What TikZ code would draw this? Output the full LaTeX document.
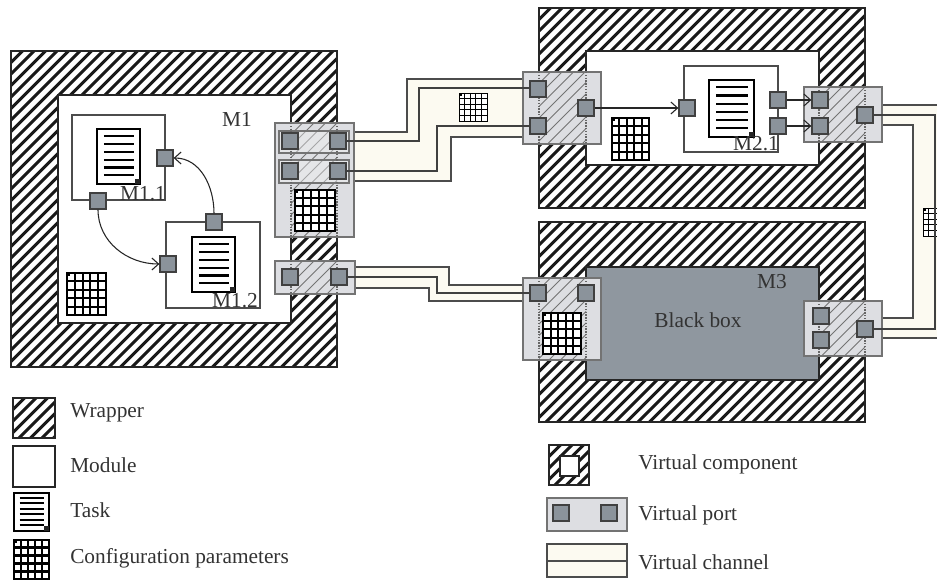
\documentclass[tikz,border=0pt]{standalone}
\usepackage{fontspec}
\setmainfont{Liberation Serif}
\usetikzlibrary{arrows.meta}
\definecolor{portgray}{HTML}{8B939B}
\definecolor{boxgray}{HTML}{8F979F}
\definecolor{portbg}{HTML}{DDDEE2}
\definecolor{chancream}{HTML}{FCFAF1}
\definecolor{inkgray}{HTML}{333333}
\tikzset{
    wrapper/.style={draw=black!85,line width=2.2pt},
    wrapline/.style={black!90,line width=2.2pt},
    module/.style={draw=black!85,line width=2pt,fill=white},
    taskbox/.style={draw=black!70,line width=1.1pt},
    port/.style={draw=black!75,fill=portgray,line width=1pt,minimum size=12pt,inner sep=0pt},
    vport/.style={draw=black!55,line width=1pt,fill=portbg},
    vline/.style={black!55,line width=0.7pt},
    zone/.style={draw=black!60,line width=1.1pt,densely dotted},
    channel/.style={draw=black!70,line width=1.1pt,fill=chancream},
    wire/.style={draw=black!75,line width=1.1pt},
    flow/.style={draw=black!85,line width=0.8pt,-{Straight Barb[length=5pt,width=9pt]}},
    lbl/.style={text=inkgray,font=\fontsize{16}{19}\selectfont,inner sep=0pt},
}
\newcommand{\hatchrect}[5]{
    \pgfmathsetmacro{\hh}{#5-#3}
    \pgfmathsetmacro{\nn}{#4-#2+#5-#3}
    \begin{scope}
        \clip (#2,#3) rectangle (#4,#5);
        \foreach \d in {0,11.5,...,\nn}
            \draw[#1] ({#2+\d-\hh},#5) -- ({#2+\d},#3);
    \end{scope}
}
\newcommand{\taskdoc}[4]{
    \draw[line width=2pt,fill=white] (#1,#2) rectangle (#3,#4);
    \fill[black!85] (#3,#4) ++(-5,0) rectangle ++(5,-5);
    \foreach \k in {1,...,6}
        \draw[line width=1.6pt] ({#1+0.16*(#3-#1)},{#2+(#4-#2)*(\k-0.1)/7}) -- ({#3-0.13*(#3-#1)},{#2+(#4-#2)*(\k-0.1)/7});
}
\newcommand{\cfggrid}[5]{
    \draw[line width=#5,fill=white] (#1,#2) rectangle (#3,#4);
    \foreach \k in {1,...,4} {
        \draw[line width=#5] ({#1+(#3-#1)*\k/5},#2) -- ({#1+(#3-#1)*\k/5},#4);
        \draw[line width=#5] (#1,{#2+(#4-#2)*\k/5}) -- (#3,{#2+(#4-#2)*\k/5});
    }
    \fill (#1,#2) rectangle ++(3,3);
}
\begin{document}
\begin{tikzpicture}[x=0.75pt,y=-0.75pt]
    \clip (0,0) rectangle (937,580);

    \hatchrect{wrapline}{11}{51}{337}{367}
    \draw[wrapper] (11,51) rectangle (337,367);
    \draw[module] (58,95) rectangle (291,323);
    \draw[taskbox] (72,115) rectangle (165,200);
    \draw[taskbox] (166,222) rectangle (260,308);
    \taskdoc{97}{129}{140}{184}
    \taskdoc{192}{237}{235}{292}
    \cfggrid{67}{273}{106}{315}{1.5pt}
    \node[lbl] (m1) at (237,119) {M1};
    \node[lbl] (m11) at (143,194) {M1.1};
    \node[lbl] (m12) at (235,301) {M1.2};

    \hatchrect{wrapline}{539}{8}{865}{208}
    \draw[wrapper] (539,8) rectangle (865,208);
    \draw[module] (586,51) rectangle (819,165);
    \draw[taskbox] (684,66) rectangle (778,152);
    \taskdoc{709}{80}{754}{137}
    \cfggrid{612}{118}{649}{160}{1.5pt}
    \node[lbl] (m21) at (756,144) {M2.1};

    \hatchrect{wrapline}{539}{222}{865}{422}
    \draw[wrapper] (539,222) rectangle (865,422);
    \draw[module,fill=boxgray] (586,267) rectangle (819,380);
    \node[lbl] (m3) at (772,282) {M3};
    \node[lbl] (blackbox) at (698,320) {Black box};

    \draw[channel] (350,132) -- (407,132) -- (407,79) -- (530,79) -- (530,137) -- (451,137) -- (451,181) -- (350,181) -- cycle;
    \draw[channel] (350,267) -- (449,267) -- (449,285) -- (530,285) -- (530,301) -- (429,301) -- (429,288) -- (350,288) -- cycle;
    \draw[channel] (875,105) -- (950,105) -- (950,338) -- (875,338) -- (875,318) -- (913,318) -- (913,125) -- (875,125) -- cycle;
    \cfggrid{459}{93}{487}{121}{0.7pt}
    \cfggrid{923}{208}{951}{236}{0.7pt}

    \draw[vport] (275,123) rectangle (354,237);
    \hatchrect{vline}{291}{123}{337}{237}
    \draw[vport,fill=portbg!40,fill opacity=0.4] (279,131) rectangle (349,153);
    \draw[vport,fill=portbg!40,fill opacity=0.4] (279,160) rectangle (349,183);
    \cfggrid{295}{190}{335}{231}{1.5pt}
    \draw[zone] (291,123) -- (291,237);
    \draw[zone] (337,123) -- (337,237);

    \draw[vport] (275,261) rectangle (355,294);
    \hatchrect{vline}{291}{261}{337}{294}
    \draw[zone] (291,261) -- (291,294);
    \draw[zone] (337,261) -- (337,294);

    \draw[vport] (523,72) rectangle (601,144);
    \hatchrect{vline}{539}{72}{586}{144}
    \draw[zone] (539,72) -- (539,144);
    \draw[zone] (586,72) -- (586,144);

    \draw[vport] (804,87) rectangle (882,142);
    \hatchrect{vline}{819}{87}{865}{142}
    \draw[zone] (819,87) -- (819,142);
    \draw[zone] (865,87) -- (865,142);

    \draw[vport] (523,278) rectangle (601,360);
    \hatchrect{vline}{539}{278}{586}{360}
    \cfggrid{543}{313}{581}{354}{1.5pt}
    \draw[zone] (539,278) -- (539,360);
    \draw[zone] (586,278) -- (586,360);

    \draw[vport] (804,301) rectangle (882,356);
    \hatchrect{vline}{819}{301}{865}{356}
    \draw[zone] (819,301) -- (819,356);
    \draw[zone] (865,301) -- (865,356);

    \node[port] (p1a) at (165,158) {};
    \node[port] (p1b) at (98,201) {};
    \node[port] (p1c) at (214,222) {};
    \node[port] (p1d) at (168,264) {};
    \node[port] (w1a) at (290,141) {};
    \node[port] (w1b) at (338,141) {};
    \node[port] (w1c) at (290,171) {};
    \node[port] (w1d) at (338,171) {};
    \node[port] (w1e) at (290,277) {};
    \node[port] (w1f) at (339,277) {};

    \node[port] (w2a) at (538,89) {};
    \node[port] (w2b) at (538,126) {};
    \node[port] (w2c) at (586,108) {};
    \node[port] (p2a) at (687,108) {};
    \node[port] (p2b) at (778,100) {};
    \node[port] (p2c) at (778,126) {};
    \node[port] (w2d) at (820,100) {};
    \node[port] (w2e) at (820,126) {};
    \node[port] (w2f) at (865,115) {};

    \node[port] (w3a) at (538,293) {};
    \node[port] (w3b) at (586,293) {};
    \node[port] (w3c) at (821,316) {};
    \node[port] (w3d) at (821,340) {};
    \node[port] (w3e) at (865,329) {};

    \draw[flow] (p1b) to[out=-90,in=180] (p1d);
    \draw[flow] (p1c) to[out=90,in=0] (p1a);
    \draw[flow] (w2c) -- (p2a);
    \draw[flow] (p2b) -- (w2d);
    \draw[flow] (p2c) -- (w2e);

    \draw[wire] (w1b) -- (419,141) -- (419,88) -- (w2a.west |- 0,88);
    \draw[wire] (w1d) -- (437,171) -- (437,126) -- (w2b);
    \draw[wire] (w1f) -- (437,277) -- (437,293) -- (w3a);
    \draw[wire] (w2f) -- (935,115) -- (935,329) -- (w3e);

    \hatchrect{wrapline}{13}{398}{55}{438}
    \draw[wrapper] (13,398) rectangle (55,438);
    \draw[module] (13,446) rectangle (55,487);
    \taskdoc{14}{493}{49}{531}
    \cfggrid{14}{540}{49}{579}{2pt}
    \node[lbl,anchor=west] (lwrapper) at (70,413) {Wrapper};
    \node[lbl,anchor=west] (lmodule) at (70,465) {Module};
    \node[lbl,anchor=west] (ltask) at (70,510) {Task};
    \node[lbl,anchor=west] (lconfig) at (70,558) {Configuration parameters};

    \hatchrect{wrapline}{549}{445}{589}{485}
    \draw[wrapper] (549,445) rectangle (589,485);
    \draw[module] (560,456) rectangle (579,476);
    \draw[vport] (547,498) rectangle (627,531);
    \node[port] (lport1) at (561,513) {};
    \node[port] (lport2) at (609,513) {};
    \draw[channel] (547,544) rectangle (627,577);
    \draw[channel] (547,561) -- (627,561);
    \node[lbl,anchor=west] (lvc) at (638,464) {Virtual component};
    \node[lbl,anchor=west] (lvp) at (638,515) {Virtual port};
    \node[lbl,anchor=west] (lch) at (638,562) {Virtual channel};
\end{tikzpicture}
\end{document}
